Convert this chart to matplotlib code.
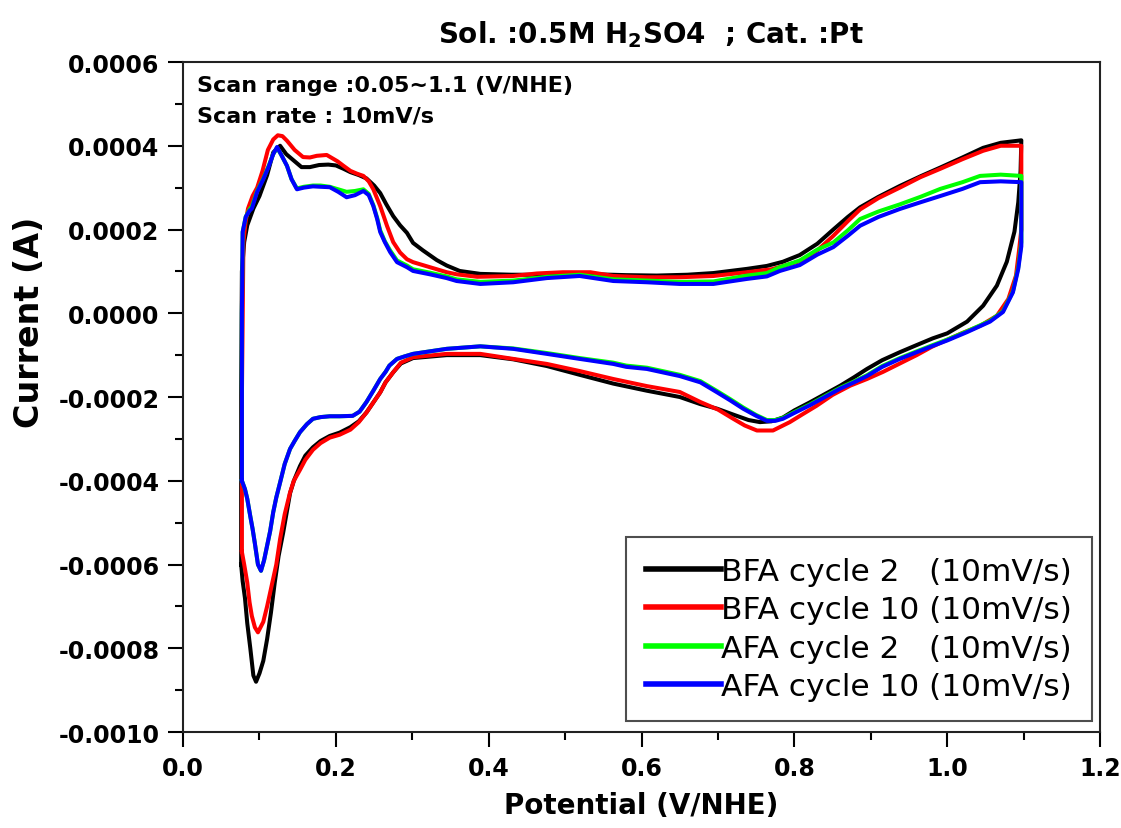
import matplotlib
matplotlib.use("Agg")
import matplotlib.pyplot as plt
from matplotlib.ticker import MultipleLocator, FormatStrFormatter

# ---- BFA cycle 2 ----
bfa2_fwd_E = [0.076, 0.076, 0.077, 0.080, 0.084, 0.092, 0.100, 0.110, 0.118, 0.127, 0.135, 0.144, 0.155, 0.166,
              0.178, 0.190, 0.200, 0.210, 0.219, 0.230, 0.240, 0.250, 0.258, 0.266, 0.275, 0.284, 0.293, 0.301,
              0.314, 0.332, 0.345, 0.362, 0.389, 0.430, 0.460, 0.490, 0.510, 0.540, 0.580, 0.620, 0.660, 0.694,
              0.738, 0.764, 0.785, 0.807, 0.830, 0.851, 0.870, 0.886, 0.910, 0.938, 0.965, 0.991, 1.020, 1.047,
              1.070, 1.097]
bfa2_fwd_I = [-0.00060, -0.00020, 0.00010, 0.00017, 0.00021, 0.00025, 0.00028, 0.00033, 0.000384, 0.00040,
              0.00038, 0.000366, 0.000349, 0.000349, 0.000354, 0.000355, 0.000353, 0.000345, 0.000337, 0.00033,
              0.000322, 0.000305, 0.000287, 0.00026, 0.000232, 0.00021, 0.000192, 0.000168, 0.000150, 0.000127,
              0.000114, 0.000101, 0.000094, 0.000092, 0.000092, 0.000095, 0.000096, 0.000093, 0.000091, 0.00009,
              0.000092, 0.000096, 0.000106, 0.000113, 0.000123, 0.000139, 0.000166, 0.000200, 0.00023, 0.000253,
              0.000278, 0.000304, 0.000327, 0.000348, 0.000372, 0.000395, 0.000407, 0.000413]
bfa2_rev_E = [1.097, 1.096, 1.093, 1.088, 1.078, 1.065, 1.047, 1.026, 1.000, 0.981, 0.960, 0.938, 0.915, 0.895,
              0.878, 0.860, 0.840, 0.820, 0.800, 0.785, 0.770, 0.755, 0.740, 0.720, 0.699, 0.677, 0.650, 0.607,
              0.563, 0.519, 0.476, 0.432, 0.389, 0.345, 0.301, 0.285, 0.275, 0.265, 0.258, 0.249, 0.240, 0.230,
              0.219, 0.205, 0.192, 0.180, 0.170, 0.160, 0.153, 0.145, 0.140, 0.131, 0.125, 0.120, 0.115, 0.110,
              0.105, 0.100, 0.0955, 0.092, 0.088, 0.084, 0.081, 0.078, 0.076]
bfa2_rev_I = [0.000413, 0.00034, 0.000265, 0.000195, 0.000123, 0.000066, 0.000018, -0.00002, -0.000048,
              -0.00006, -0.000076, -0.000093, -0.000112, -0.000133, -0.000153, -0.000173, -0.000193, -0.000213,
              -0.000232, -0.000249, -0.000258, -0.00026, -0.000255, -0.000242, -0.000228, -0.000217, -0.0002,
              -0.000185, -0.000168, -0.000147, -0.000126, -0.00011, -0.0001, -0.0001, -0.000107, -0.00012,
              -0.000141, -0.000165, -0.000189, -0.000213, -0.000237, -0.000258, -0.000272, -0.000285, -0.000293,
              -0.000305, -0.00032, -0.00034, -0.000365, -0.0004, -0.00043, -0.000524, -0.00058, -0.000643,
              -0.000715, -0.000778, -0.00083, -0.00086, -0.00088, -0.000865, -0.0008, -0.00074, -0.00068,
              -0.00064, -0.0006]

# ---- BFA cycle 10 ----
bfa10_fwd_E = [0.077, 0.077, 0.079, 0.082, 0.085, 0.091, 0.097, 0.104, 0.111, 0.118, 0.124, 0.130, 0.136, 0.146,
               0.157, 0.166, 0.175, 0.188, 0.202, 0.210, 0.219, 0.228, 0.236, 0.243, 0.249, 0.258, 0.267, 0.275,
               0.284, 0.293, 0.301, 0.323, 0.345, 0.358, 0.385, 0.432, 0.463, 0.497, 0.533, 0.563, 0.607, 0.650,
               0.694, 0.738, 0.770, 0.807, 0.830, 0.851, 0.870, 0.886, 0.910, 0.938, 0.965, 0.991, 1.020, 1.047,
               1.070, 1.097]
bfa10_fwd_I = [-0.00057, -0.0002, 0.00017, 0.00022, 0.00025, 0.00028, 0.0003, 0.00034, 0.00039, 0.000415,
               0.000425, 0.000423, 0.000412, 0.00039, 0.000373, 0.000372, 0.000376, 0.000378, 0.000363, 0.000352,
               0.00034, 0.000333, 0.000328, 0.000315, 0.000296, 0.000256, 0.000208, 0.00017, 0.000145, 0.000129,
               0.000122, 0.00011, 0.000098, 0.000093, 0.000087, 0.000089, 0.000095, 0.000098, 0.000098, 0.000089,
               0.000086, 0.000086, 0.000089, 0.000098, 0.000105, 0.000124, 0.00015, 0.000185, 0.00022, 0.000248,
               0.000275, 0.0003, 0.000325, 0.000345, 0.000368, 0.000388, 0.0004, 0.0004]
bfa10_rev_E = [1.097, 1.097, 1.094, 1.090, 1.080, 1.065, 1.043, 1.020, 1.004, 0.980, 0.960, 0.938, 0.916, 0.895,
               0.873, 0.850, 0.829, 0.810, 0.794, 0.772, 0.751, 0.735, 0.720, 0.700, 0.677, 0.650, 0.607, 0.563,
               0.519, 0.476, 0.432, 0.389, 0.345, 0.301, 0.285, 0.275, 0.265, 0.258, 0.249, 0.240, 0.230, 0.219,
               0.205, 0.192, 0.180, 0.170, 0.160, 0.153, 0.145, 0.140, 0.133, 0.127, 0.122, 0.116, 0.110, 0.105,
               0.098, 0.094, 0.090, 0.087, 0.084, 0.080, 0.077]
bfa10_rev_I = [0.0004, 0.0002, 0.00015, 0.00009, 0.000034, -0.000006, -0.00003, -0.000047, -0.00006, -0.00008,
               -0.0001, -0.00012, -0.00014, -0.000157, -0.000173, -0.000195, -0.000221, -0.000242, -0.00026,
               -0.00028, -0.00028, -0.000268, -0.000252, -0.00023, -0.000212, -0.000188, -0.000174, -0.000157,
               -0.000138, -0.000121, -0.000109, -0.000097, -0.000097, -0.000105, -0.000118, -0.000141, -0.000165,
               -0.000189, -0.000213, -0.000237, -0.00026, -0.000278, -0.00029, -0.000297, -0.00031, -0.000326,
               -0.00035, -0.000374, -0.0004, -0.000428, -0.00048, -0.000539, -0.0006, -0.00065, -0.0007,
               -0.000737, -0.000762, -0.00075, -0.000723, -0.00069, -0.000643, -0.0006, -0.00057]

# ---- AFA cycle 2 ----
afa2_fwd_E = [0.077, 0.077, 0.078, 0.082, 0.087, 0.090, 0.097, 0.105, 0.112, 0.118, 0.123, 0.128, 0.136, 0.142,
              0.149, 0.158, 0.170, 0.180, 0.192, 0.203, 0.214, 0.225, 0.236, 0.243, 0.249, 0.254, 0.258, 0.264,
              0.271, 0.280, 0.293, 0.301, 0.323, 0.345, 0.358, 0.389, 0.432, 0.476, 0.519, 0.563, 0.607, 0.650,
              0.694, 0.738, 0.764, 0.781, 0.807, 0.830, 0.851, 0.870, 0.886, 0.910, 0.938, 0.965, 0.991, 1.020,
              1.043, 1.070, 1.097]
afa2_fwd_I = [-0.0004, 0.0, 0.000194, 0.00023, 0.000248, 0.000255, 0.000292, 0.000322, 0.000352, 0.00038,
              0.000395, 0.00038, 0.000352, 0.00032, 0.000298, 0.000302, 0.000305, 0.000305, 0.000302, 0.000296,
              0.00029, 0.000292, 0.000296, 0.000285, 0.000258, 0.000228, 0.000198, 0.000172, 0.00015, 0.000126,
              0.000114, 0.000105, 0.000097, 0.000088, 0.000081, 0.000075, 0.000078, 0.000087, 0.000092, 0.000081,
              0.000078, 0.000075, 0.000076, 0.00009, 0.000096, 0.00011, 0.000126, 0.000152, 0.000169, 0.000198,
              0.000225, 0.000243, 0.00026, 0.000278, 0.000297, 0.000313, 0.000328, 0.000331, 0.000328]
afa2_rev_E = [1.097, 1.097, 1.093, 1.086, 1.073, 1.056, 1.026, 1.000, 0.981, 0.960, 0.938, 0.915, 0.895, 0.878,
              0.860, 0.840, 0.820, 0.800, 0.785, 0.775, 0.764, 0.750, 0.733, 0.716, 0.699, 0.677, 0.650, 0.607,
              0.580, 0.563, 0.519, 0.476, 0.432, 0.389, 0.345, 0.301, 0.290, 0.280, 0.270, 0.265, 0.258, 0.249,
              0.240, 0.231, 0.222, 0.205, 0.192, 0.180, 0.170, 0.162, 0.153, 0.146, 0.140, 0.133, 0.127, 0.122,
              0.118, 0.114, 0.110, 0.106, 0.102, 0.098, 0.094, 0.091, 0.088, 0.084, 0.081, 0.077]
afa2_rev_I = [0.000328, 0.00017, 0.00011, 0.000052, 0.000005, -0.000018, -0.000043, -0.000063, -0.000076,
              -0.000091, -0.000107, -0.000126, -0.000148, -0.000163, -0.000178, -0.000198, -0.000218, -0.000236,
              -0.00025, -0.000255, -0.000255, -0.000243, -0.000225, -0.000205, -0.000186, -0.000162, -0.000147,
              -0.00013, -0.000125, -0.000118, -0.000107, -0.000095, -0.000084, -0.000079, -0.000085, -0.000097,
              -0.000103, -0.000109, -0.000125, -0.00014, -0.000157, -0.000185, -0.000212, -0.000235, -0.000245,
              -0.000246, -0.000246, -0.000248, -0.000252, -0.000265, -0.000284, -0.000305, -0.000324, -0.00036,
              -0.000404, -0.00044, -0.000475, -0.00052, -0.000555, -0.00059, -0.000615, -0.0006, -0.00055,
              -0.000515, -0.000485, -0.000443, -0.00042, -0.0004]

# ---- AFA cycle 10 ----
afa10_fwd_E = afa2_fwd_E
afa10_fwd_I = [-0.0004, 0.0, 0.000194, 0.00023, 0.000245, 0.00025, 0.00029, 0.00032, 0.00035, 0.00038,
               0.000397, 0.00038, 0.000352, 0.00032, 0.000296, 0.0003, 0.000303, 0.000302, 0.000301, 0.00029,
               0.000277, 0.000282, 0.000292, 0.000282, 0.000256, 0.000225, 0.000194, 0.00017, 0.000146, 0.000122,
               0.00011, 0.000101, 0.000093, 0.000084, 0.000077, 0.00007, 0.000074, 0.000084, 0.000089, 0.000077,
               0.000074, 0.00007, 0.00007, 0.000082, 0.000088, 0.000101, 0.000115, 0.00014, 0.000158, 0.000185,
               0.000209, 0.00023, 0.000249, 0.000265, 0.00028, 0.000297, 0.000313, 0.000315, 0.000313]
afa10_rev_E = afa2_rev_E
afa10_rev_I = [0.000313, 0.00016, 0.000106, 0.00005, 0.000003, -0.00002, -0.000045, -0.000065, -0.000078,
               -0.000093, -0.000109, -0.000128, -0.00015, -0.000165, -0.00018, -0.0002, -0.00022, -0.000238,
               -0.000252, -0.000257, -0.000257, -0.000245, -0.000228, -0.000208, -0.000189, -0.000165, -0.00015,
               -0.000133, -0.000128, -0.000121, -0.000109, -0.000097, -0.000085, -0.000079, -0.000085, -0.000097,
               -0.000103, -0.000109, -0.000125, -0.00014, -0.000157, -0.000185, -0.000212, -0.000235, -0.000245,
               -0.000246, -0.000246, -0.000248, -0.000252, -0.000265, -0.000284, -0.000305, -0.000324, -0.00036,
               -0.000404, -0.00044, -0.000475, -0.00052, -0.000555, -0.00059, -0.000615, -0.0006, -0.00055,
               -0.000515, -0.000485, -0.000443, -0.00042, -0.0004]

labels = ["BFA cycle 2   (10mV/s)", "BFA cycle 10 (10mV/s)",
          "AFA cycle 2   (10mV/s)", "AFA cycle 10 (10mV/s)"]
colors = ["#000000", "#ff0000", "#00ff00", "#0000ff"]

curves = [
    (bfa2_fwd_E + bfa2_rev_E, bfa2_fwd_I + bfa2_rev_I),
    (bfa10_fwd_E + bfa10_rev_E, bfa10_fwd_I + bfa10_rev_I),
    (afa2_fwd_E + afa2_rev_E, afa2_fwd_I + afa2_rev_I),
    (afa10_fwd_E + afa10_rev_E, afa10_fwd_I + afa10_rev_I),
]

plt.rcParams['font.family'] = ['DejaVu Sans']
plt.rcParams['mathtext.fontset'] = 'custom'
plt.rcParams['mathtext.bf'] = 'DejaVu Sans:bold'

fig = plt.figure(figsize=(11.21, 8.29), dpi=100)
ax = fig.add_axes([0.1633, 0.1158, 0.8180, 0.8082])

for (E, I), c, lab in zip(curves, colors, labels):
    ax.plot(E, I, color=c, linewidth=2.9, label=lab, solid_joinstyle='round')

ax.set_xlim(0.0, 1.2)
ax.set_ylim(-0.001, 0.0006)
ax.xaxis.set_major_locator(MultipleLocator(0.2))
ax.xaxis.set_minor_locator(MultipleLocator(0.1))
ax.yaxis.set_major_locator(MultipleLocator(0.0002))
ax.yaxis.set_minor_locator(MultipleLocator(0.0001))
ax.xaxis.set_major_formatter(FormatStrFormatter('%.1f'))
ax.yaxis.set_major_formatter(FormatStrFormatter('%.4f'))

ax.tick_params(which='major', direction='out', length=11, width=1.5, labelsize=17, pad=6,
               top=False, right=False)
ax.tick_params(which='minor', direction='out', length=5.5, width=1.5, top=False, right=False)
for lab in ax.get_xticklabels() + ax.get_yticklabels():
    lab.set_fontweight('bold')
for sp in ax.spines.values():
    sp.set_linewidth(1.5)
    sp.set_color('#222222')

ax.set_xlabel("Potential (V/NHE)", fontsize=20, fontweight='bold', labelpad=8)
ax.set_ylabel("Current (A)", fontsize=24, fontweight='bold')
ax.yaxis.set_label_coords(-0.150, 0.613)

fig.text(0.581, 0.958, r"Sol. :0.5M H$_\mathbf{2}$SO4  ; Cat. :Pt", ha='center', va='center',
         fontsize=20, fontweight='bold')

ax.text(0.015, 0.966, "Scan range :0.05~1.1 (V/NHE)", transform=ax.transAxes,
        fontsize=16, fontweight='bold', va='center', ha='left')
ax.text(0.015, 0.920, "Scan rate : 10mV/s", transform=ax.transAxes,
        fontsize=16, fontweight='bold', va='center', ha='left')

leg = ax.legend(loc='lower right', bbox_to_anchor=(0.9913, 0.016), fontsize=22.5,
                handlelength=2.4, handletextpad=0.0, labelspacing=0.3, borderpad=0.65,
                fancybox=False, frameon=True, borderaxespad=0)
leg.get_frame().set_edgecolor('#222222')
leg.get_frame().set_linewidth(1.5)
for line in leg.get_lines():
    line.set_linewidth(4)

fig.savefig("out.png", dpi=100)
